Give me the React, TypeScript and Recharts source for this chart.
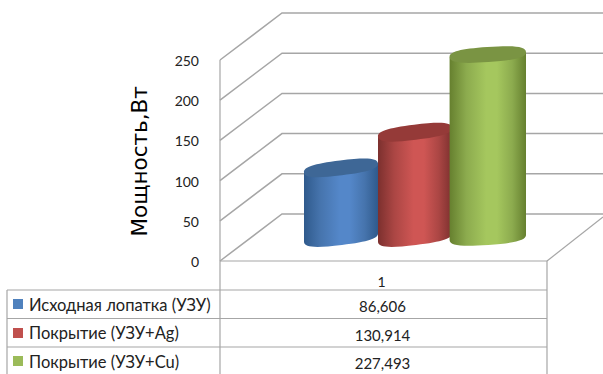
import React from "react";
import { Bar, CartesianGrid, ComposedChart, XAxis, YAxis } from "recharts";

// Chart data
const categories = ["1"];
const seriesNames = ["Исходная лопатка (УЗУ)", "Покрытие (УЗУ+Ag)", "Покрытие (УЗУ+Cu)"];
const baseBladePower = [86.606];
const silverCoatingPower = [130.914];
const copperCoatingPower = [227.493];
const yTicks = [0, 50, 100, 150, 200, 250];

const chartData = categories.map((name, i) => ({
  name,
  base: baseBladePower[i],
  silver: silverCoatingPower[i],
  copper: copperCoatingPower[i],
}));
const seriesKeys = ["base", "silver", "copper"] as const;

// Cylinder palettes, cap tilt and the extra width on the left of each one
const palettes = [
  { id: "cylBlue", edge: "#2f5a8c", shade: "#4674ad", mid: "#5487c9", top: "#3e6796", swatch: "#4f81bd", tilt: -7, ry: 7.5, grow: 0 },
  { id: "cylRed", edge: "#7c302e", shade: "#ab4644", mid: "#cf5654", top: "#953a38", swatch: "#c0504d", tilt: -7, ry: 7.5, grow: 0 },
  { id: "cylGreen", edge: "#66802f", shade: "#8cab4e", mid: "#a5c75e", top: "#7a9443", swatch: "#9bbb59", tilt: -4, ry: 7.5, grow: 2.4 },
];

// Pseudo-3D box geometry
const CHART_W = 603;
const CHART_H = 374;
const FRONT_LEFT = 220;
const FRONT_RIGHT = 547;
const FRONT_TOP = 60;
const FRONT_BOTTOM = 261;
const DEPTH_X = 62;
const DEPTH_Y = 47;
const GRID = "#a6a6a6";
const LINE = "#a6a6a6";
const FONT = "Lato, Carlito, 'Open Sans', sans-serif";
const INK = "#222222";
// Handle length of the cap curves; above 0.55 gives a slightly squared ellipse
const CAP_KAPPA = 0.72;

// Walls: each gridline runs up the side wall and along the back wall
const wallLine = (props: any) => {
  const { x1, x2, y1 } = props;
  const backY = y1 - DEPTH_Y;
  return (
    <polyline
      key={`wall-${y1}`}
      points={`${x1},${y1} ${x1 + DEPTH_X},${backY} ${x2 + DEPTH_X},${backY}`}
      fill="none"
      stroke={GRID}
      strokeWidth={1.5}
    />
  );
};

// One half of a tilted cap, from its left end to its right end
const capHalf = (cx: number, cy: number, rx: number, ry: number, rad: number, side: 1 | -1) => {
  const pt = (u: number, v: number) =>
    `${cx + u * Math.cos(rad) - v * Math.sin(rad)} ${cy + u * Math.sin(rad) + v * Math.cos(rad)}`;
  const k = CAP_KAPPA;
  const s = side;
  return (
    `C ${pt(-rx, s * ry * k)} ${pt(-rx * k, s * ry)} ${pt(0, s * ry)} ` +
    `C ${pt(rx * k, s * ry)} ${pt(rx, s * ry * k)} ${pt(rx, 0)}`
  );
};

// A cylinder standing mid-way into the box depth
const cylinder = (index: number) => (props: any) => {
  const { x, y, width: rawWidth, height } = props;
  const p = palettes[index];
  const width = rawWidth + p.grow;
  const left = x + DEPTH_X / 2 - p.grow;
  const right = left + width;
  const cx = left + width / 2;
  const top = y - DEPTH_Y / 2;
  const bottom = y + height - DEPTH_Y / 2;
  const rad = (p.tilt * Math.PI) / 180;
  const rise = (width / 2) * Math.tan(rad);
  const rx = width / 2 / Math.cos(rad);
  const body =
    `M ${left} ${top - rise} L ${left} ${bottom - rise} ` +
    capHalf(cx, bottom, rx, p.ry, rad, 1) +
    ` L ${right} ${top + rise} ` +
    `L ${left} ${top - rise} Z`;
  const cap =
    `M ${left} ${top - rise} ` +
    capHalf(cx, top, rx, p.ry, rad, -1) +
    " " +
    capHalf(cx, top, -rx, -p.ry, rad, -1) +
    " Z";
  return (
    <g>
      <path d={body} fill={`url(#${p.id})`} />
      <path d={cap} fill={p.top} />
    </g>
  );
};

const tableCell: React.CSSProperties = {
  position: "absolute",
  fontFamily: FONT,
  color: INK,
  whiteSpace: "nowrap",
};

const rowTops = [290, 318.5, 347];
const rowValues = [baseBladePower[0], silverCoatingPower[0], copperCoatingPower[0]];

// Data table below the plot
function DataTable() {
  const hLine = (y: number, x1: number, x2: number) => (
    <line key={`h${y}`} x1={x1} x2={x2} y1={y} y2={y} stroke={LINE} strokeWidth={1.2} />
  );
  const vLine = (x: number, y1: number, y2: number) => (
    <line key={`v${x}`} x1={x} x2={x} y1={y1} y2={y2} stroke={LINE} strokeWidth={1.2} />
  );
  return (
    <div style={{ position: "absolute", left: 0, top: 0, width: CHART_W, height: CHART_H, pointerEvents: "none" }}>
      <svg width={CHART_W} height={CHART_H} style={{ position: "absolute", left: 0, top: 0 }}>
        {rowTops.map((y) => hLine(y, 7, FRONT_RIGHT))}
        {vLine(7, 290, CHART_H)}
        {vLine(FRONT_LEFT, FRONT_TOP, CHART_H)}
        {vLine(FRONT_RIGHT, FRONT_BOTTOM, CHART_H)}
        <line x1={FRONT_LEFT} x2={FRONT_RIGHT} y1={FRONT_BOTTOM} y2={FRONT_BOTTOM} stroke={LINE} strokeWidth={1.2} />
        <line x1={FRONT_RIGHT} x2={FRONT_RIGHT + 56} y1={FRONT_BOTTOM} y2={FRONT_BOTTOM - 44} stroke={LINE} strokeWidth={1.2} />
      </svg>
      {seriesNames.map((name, i) => (
        <React.Fragment key={name}>
          <div
            style={{
              position: "absolute",
              left: 13,
              top: rowTops[i] + 9,
              width: 10,
              height: 10,
              background: palettes[i].swatch,
            }}
          />
          <div style={{ ...tableCell, fontSize: 16.5, left: 29, top: rowTops[i] + 4.5 }}>{name}</div>
          <div
            style={{
              ...tableCell,
              fontSize: 15,
              left: FRONT_LEFT - 1,
              width: FRONT_RIGHT - FRONT_LEFT,
              textAlign: "center",
              top: rowTops[i] + 7,
            }}
          >
            {rowValues[i].toFixed(3).replace(".", ",")}
          </div>
        </React.Fragment>
      ))}
    </div>
  );
}

export default function App() {
  return (
    <div style={{ position: "absolute", left: 0, top: 0, width: CHART_W, height: CHART_H, overflow: "hidden", background: "#fff" }}>
      <ComposedChart
        width={CHART_W}
        height={CHART_H}
        data={chartData}
        margin={{ top: FRONT_TOP, right: CHART_W - FRONT_RIGHT, bottom: 83, left: 140 }}
        barCategoryGap={53}
        barGap={0}
      >
        <defs>
          {palettes.map((p) => (
            <linearGradient key={p.id} id={p.id} x1="0" y1="0" x2="1" y2="0">
              <stop offset="0%" stopColor={p.edge} />
              <stop offset="22%" stopColor={p.shade} />
              <stop offset="48%" stopColor={p.mid} />
              <stop offset="62%" stopColor={p.mid} />
              <stop offset="82%" stopColor={p.shade} />
              <stop offset="100%" stopColor={p.edge} />
            </linearGradient>
          ))}
        </defs>
        <CartesianGrid vertical={false} horizontal={wallLine} />
        <XAxis
          dataKey="name"
          height={30}
          axisLine={false}
          tickLine={false}
          tickMargin={10}
          dx={-2}
          tick={{ fontFamily: FONT, fontSize: 14, fill: INK }}
        />
        <YAxis
          width={80}
          domain={[0, 250]}
          ticks={yTicks}
          interval={0}
          axisLine={false}
          tickLine={false}
          tickSize={0}
          tickMargin={21}
          dy={1}
          tick={{ fontFamily: FONT, fontSize: 14, fill: INK }}
          label={{
            value: "Мощность,Вт",
            angle: -90,
            position: "insideLeft",
            offset: -1,
            dy: 76,
            style: { fontFamily: "'DejaVu Sans', sans-serif", fontSize: 21.5, fill: "#000" },
          }}
        />
        {seriesKeys.map((key, i) => (
          <Bar key={key} dataKey={key} name={seriesNames[i]} shape={cylinder(i)} isAnimationActive={false} />
        ))}
      </ComposedChart>
      <DataTable />
    </div>
  );
}
